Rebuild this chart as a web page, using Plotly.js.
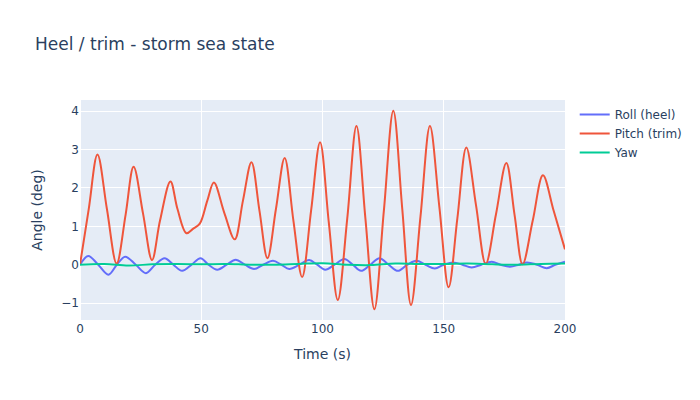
<!DOCTYPE html>
<html>
<head>
<meta charset="utf-8">
<script src="https://cdn.plot.ly/plotly-3.0.1.min.js"></script>
<style>html,body{margin:0;padding:0;}#chart{width:700px;height:400px;}</style>
</head>
<body>
<div id="chart"></div>
<script>
// Pitch (trim) samples
const pitchT = [0, 3.6, 7.2, 11.1, 15.1, 18.8, 22.1, 26.0, 29.7, 33.0, 37.3, 40.2, 43.9, 46.7, 49.4, 52.5, 55.2, 59.5, 63.8, 67.2, 70.7, 74.0, 77.3, 80.8, 84.4, 88.0, 91.6, 95.3, 99.0, 102.6, 106.3, 110.2, 114.0, 117.7, 121.4, 125.3, 129.2, 132.9, 136.5, 140.4, 144.3, 148.2, 152.0, 155.6, 159.3, 163.3, 167.3, 171.5, 175.8, 179.2, 182.5, 186.7, 190.9, 195.3, 200];
const pitchV = [0.0, 1.45, 2.87, 1.45, 0.03, 1.3, 2.55, 1.33, 0.12, 1.15, 2.17, 1.45, 0.82, 0.94, 1.07, 1.67, 2.14, 1.35, 0.66, 1.67, 2.67, 1.41, 0.17, 1.45, 2.78, 1.15, -0.32, 1.41, 3.19, 1.1, -0.92, 1.2, 3.61, 1.2, -1.16, 1.4, 4.01, 1.45, -1.05, 1.25, 3.61, 1.5, -0.59, 1.2, 3.05, 1.55, 0.02, 1.3, 2.65, 1.3, 0.01, 1.15, 2.33, 1.41, 0.4];

// Roll (heel) samples
const rollT = [0, 3.4, 7.5, 11.7, 15.2, 18.6, 23.0, 27.2, 31.0, 34.9, 38.5, 42.1, 46.0, 49.7, 53.0, 56.6, 60.5, 64.2, 68.0, 71.8, 75.5, 79.6, 83.0, 86.3, 90.5, 94.5, 97.8, 101.1, 105.0, 109.0, 112.5, 115.9, 119.7, 123.5, 127.3, 131.1, 135.0, 138.7, 142.5, 146.3, 150.0, 153.9, 157.7, 161.5, 165.5, 169.8, 173.5, 177.3, 181.0, 184.3, 188.5, 192.5, 196.0, 200];
const rollV = [0, 0.23, 0, -0.26, 0, 0.21, 0, -0.22, 0, 0.17, 0, -0.16, 0, 0.17, 0, -0.13, 0, 0.13, 0, -0.11, 0, 0.10, 0, -0.11, 0, 0.12, 0, -0.13, 0, 0.15, 0, -0.16, 0, 0.17, 0, -0.16, 0, 0.10, 0, -0.10, 0, 0.06, 0, -0.07, 0, 0.08, 0, -0.05, 0, 0.06, 0, -0.09, 0, 0.08];

// Yaw samples
const yawT = [0, 10, 20, 30, 40, 50, 60, 70, 80, 90, 100, 110, 120, 130, 140, 150, 160, 170, 180, 190, 200];
const yawV = [0.0, 0.02, -0.02, 0.01, 0.02, 0.01, 0.02, 0.0, 0.0, 0.02, 0.04, 0.0, -0.01, 0.03, 0.02, 0.02, 0.03, 0.01, 0.0, 0.02, 0.03];

const names = ['Roll (heel)', 'Pitch (trim)', 'Yaw'];
const colors = ['#636efa', '#EF553B', '#00cc96'];

const traces = [
  {x: rollT, y: rollV, name: names[0], mode: 'lines', line: {color: colors[0], width: 2, shape: 'spline'}},
  {x: pitchT, y: pitchV, name: names[1], mode: 'lines', line: {color: colors[1], width: 2, shape: 'spline'}},
  {x: yawT, y: yawV, name: names[2], mode: 'lines', line: {color: colors[2], width: 2, shape: 'spline'}}
];

const axisStyle = {
  gridcolor: 'white', zerolinecolor: 'white', zerolinewidth: 2,
  linecolor: 'white', ticks: '', showline: false
};

const layout = {
  width: 700, height: 400,
  font: {family: '"DejaVu Sans", verdana, arial, sans-serif', size: 12, color: '#2a3f5f'},
  paper_bgcolor: 'white', plot_bgcolor: '#E5ECF6',
  title: {text: 'Heel / trim - storm sea state', x: 0.05, font: {size: 17}},
  xaxis: Object.assign({}, axisStyle, {automargin: true, title: {text: 'Time (s)', font: {size: 14}, standoff: 14}, range: [0, 200], dtick: 50}),
  yaxis: Object.assign({}, axisStyle, {title: {text: 'Angle (deg)', font: {size: 14}}, range: [-1.44, 4.29], dtick: 1}),
  legend: {font: {size: 12}},
  margin: {l: 80, r: 80, t: 100, b: 80},
  showlegend: true
};

Plotly.newPlot('chart', traces, layout, {displayModeBar: false});
</script>
</body>
</html>
